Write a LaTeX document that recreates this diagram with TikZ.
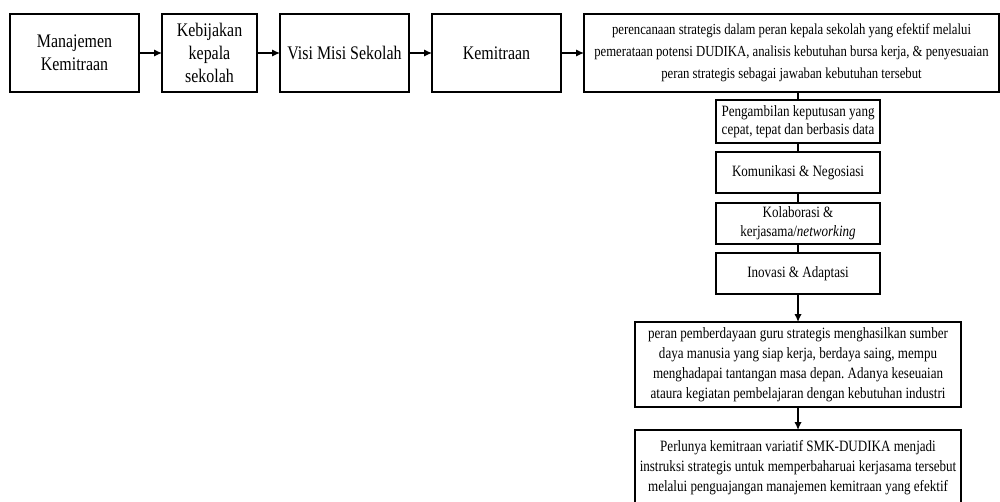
\documentclass[tikz,border=0pt]{standalone}
\usepackage{fontspec}
\setmainfont[FakeStretch=0.83]{Liberation Serif}
\usetikzlibrary{shapes, arrows.meta, positioning}
\tikzstyle{block} = [rectangle, draw=black, line width=1pt, align=center, inner sep=0pt, outer sep=0pt]
\tikzstyle{topblock} = [block, minimum height=58.5pt, font=\fontsize{14.4}{17.25}\selectfont]
\tikzstyle{stepblock} = [block, minimum width=123pt, minimum height=30.75pt, font=\fontsize{11.8}{14.5}\selectfont]
\tikzstyle{resultblock} = [block, minimum width=244.5pt, font=\fontsize{11.8}{15}\selectfont]
\tikzstyle{line} = [draw, line width=1pt]
\tikzstyle{arrow} = [line width=1pt, -{Latex[length=6pt, width=5.5pt]}]

\begin{document}
\frenchspacing
\begin{tikzpicture}[x=0.75pt, y=-0.75pt]
        \useasboundingbox (0,0) rectangle (1000,501);
        % top row
        \node [topblock, minimum width=96.75pt, anchor=north west] (mgmt) at (10,14) {Manajemen\\Kemitraan};
        \node [topblock, minimum width=71.25pt, right=17.25pt of mgmt] (policy) {Kebijakan\\kepala\\sekolah};
        \node [topblock, minimum width=96.75pt, right=17.25pt of policy] (vision) {Visi Misi Sekolah};
        \node [topblock, minimum width=96.75pt, right=17.25pt of vision] (partner) {Kemitraan};
        \node [topblock, minimum width=311.25pt, right=17.25pt of partner, font=\fontsize{11.5}{16.5}\selectfont] (plan) {perencanaan strategis dalam peran kepala sekolah yang efektif melalui\\pemerataan potensi DUDIKA, analisis kebutuhan bursa kerja, \& penyesuaian\\peran strategis sebagai jawaban kebutuhan tersebut};

        % role steps
        \node [stepblock, minimum height=32.25pt, below=6pt of plan, xshift=4.9pt, font=\fontsize{11.8}{13.5}\selectfont] (decide) {Pengambilan keputusan yang\\cepat, tepat dan berbasis data};
        \node [stepblock, below=6.75pt of decide] (comm) {Komunikasi \& Negosiasi};
        \node [stepblock, below=7.5pt of comm] (collab) {Kolaborasi \&\\kerjasama/\textit{networking}};
        \node [stepblock, below=6.75pt of collab] (innov) {Inovasi \& Adaptasi};

        % outcomes
        \node [resultblock, minimum height=63.75pt, below=21pt of innov] (role) {peran pemberdayaan guru strategis menghasilkan sumber\\daya manusia yang siap kerja, berdaya saing, mempu\\menghadapai tantangan masa depan. Adanya keseuaian\\ataura kegiatan pembelajaran dengan kebutuhan industri};
        \node [resultblock, minimum height=57pt, below=17.25pt of role] (need) {Perlunya kemitraan variatif SMK-DUDIKA menjadi\\instruksi strategis untuk memperbaharuai kerjasama tersebut\\melalui penguajangan manajemen kemitraan yang efektif};

        % arrows
        \draw [arrow] (mgmt) -- (policy);
        \draw [arrow] (policy) -- (vision);
        \draw [arrow] (vision) -- (partner);
        \draw [arrow] (partner) -- (plan);
        \draw [line] (plan.south -| decide) -- (decide);
        \draw [line] (decide) -- (comm);
        \draw [line] (comm) -- (collab);
        \draw [line] (collab) -- (innov);
        \draw [arrow] (innov) -- (role);
        \draw [arrow] (role) -- (need);
    \end{tikzpicture}
\end{document}
